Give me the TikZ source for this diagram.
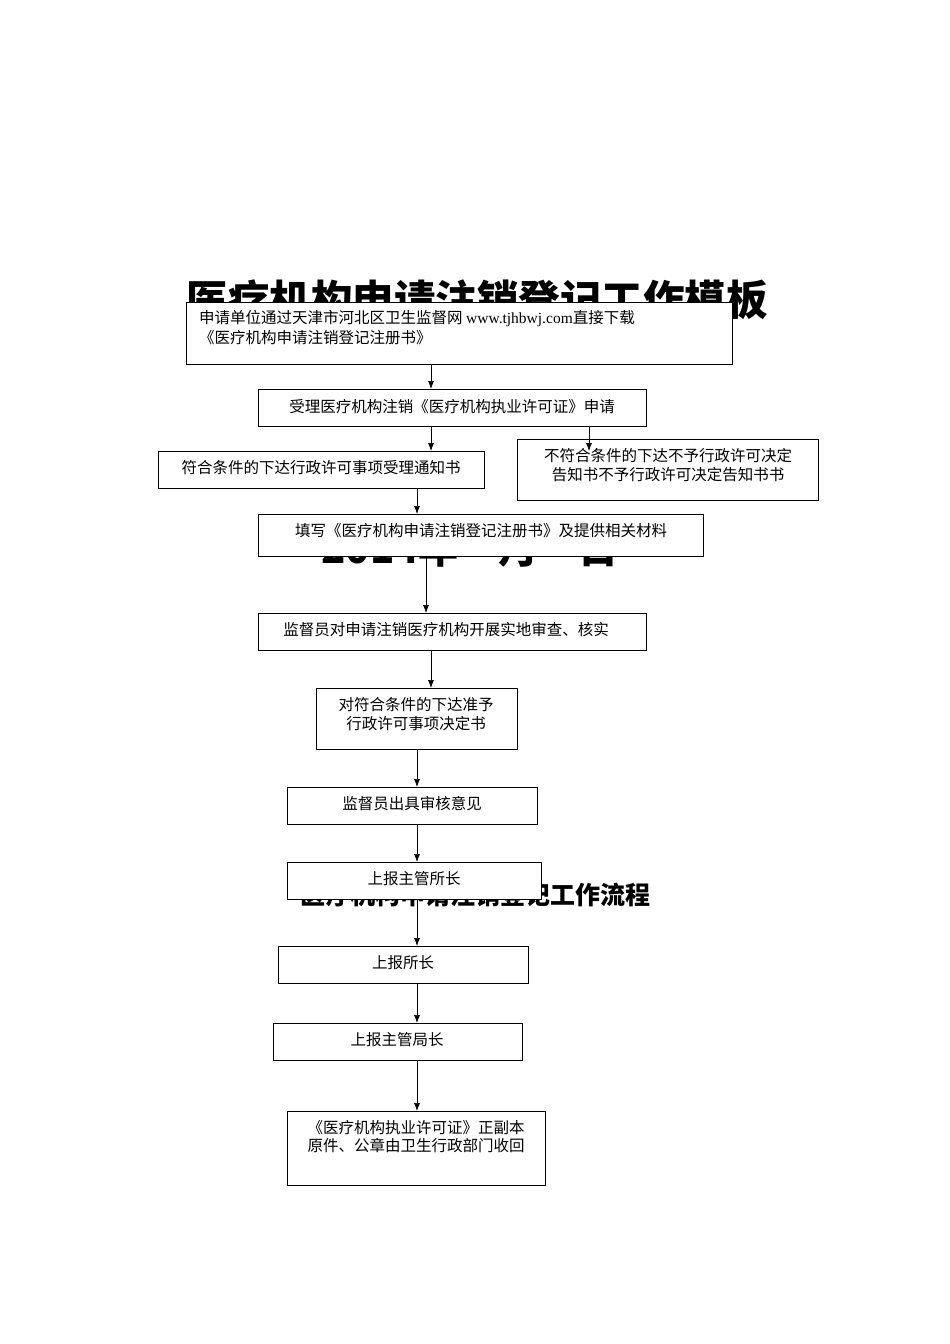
\documentclass[tikz,border=0pt]{standalone}
\usepackage{fontspec}
\usetikzlibrary{arrows.meta}
\setmainfont{Noto Sans CJK SC}
\newfontfamily\lserif{Liberation Serif}
\begin{document}
\begin{tikzpicture}[x=1pt,y=-1pt,
  bx/.style={draw,fill=white,line width=0.7pt,inner sep=0pt,font=\fontsize{15}{19}\selectfont},
  arr/.style={-{Latex[length=8pt,width=6pt]},line width=0.7pt}]
\useasboundingbox[fill=white] (0,0) rectangle (950,1344);
% background texts
\node[font=\fontsize{41.5}{40}\selectfont\bfseries] (t1) at (477,300) {医疗机构申请注销登记工作模板};
\node[font=\fontsize{40}{40}\selectfont\bfseries] (t2) at (470,548) {2014年\quad 月\quad 日};
\node[font=\fontsize{25}{25}\selectfont\bfseries] (t3) at (475,895) {医疗机构申请注销登记工作流程};
% boxes
\node[bx,minimum width=546,minimum height=62,anchor=north west] (b1) at (186,302) {};
\node[anchor=north west,font=\fontsize{15.5}{20}\selectfont,align=left,inner sep=0pt] (b1t) at (199,310) {申请单位通过天津市河北区卫生监督网 {\lserif www.tjhbwj.com}直接下载\\《医疗机构申请注销登记注册书》};
\node[bx,minimum width=388,minimum height=37,anchor=north west] (b2) at (258,389) {};
\node (b2t) at (452,407) {\fontsize{15.5}{19}\selectfont 受理医疗机构注销《医疗机构执业许可证》申请};
\node[bx,minimum width=326,minimum height=37,anchor=north west] (b3) at (158,451) {};
\node (b3t) at (321,468) {\fontsize{15.5}{19}\selectfont 符合条件的下达行政许可事项受理通知书};
\node[bx,minimum width=301,minimum height=61,anchor=north west] (b4) at (517,439) {};
\node[align=center,font=\fontsize{15.5}{19}\selectfont] (b4t) at (668,465) {不符合条件的下达不予行政许可决定\\告知书不予行政许可决定告知书书};
\node[bx,minimum width=445,minimum height=42,anchor=north west] (b5) at (258,514) {};
\node (b5t) at (481,531) {\fontsize{15.5}{19}\selectfont 填写《医疗机构申请注销登记注册书》及提供相关材料};
\node[bx,minimum width=388,minimum height=37,anchor=north west] (b6) at (258,613) {};
\node (b6t) at (446,630) {\fontsize{15.5}{19}\selectfont 监督员对申请注销医疗机构开展实地审查、核实};
\node[bx,minimum width=201,minimum height=61,anchor=north west] (b7) at (316,688) {};
\node[align=center,font=\fontsize{15.5}{19}\selectfont] (b7t) at (416,714) {对符合条件的下达准予\\行政许可事项决定书};
\node[bx,minimum width=250,minimum height=37,anchor=north west] (b8) at (287,787) {};
\node (b8t) at (412,804) {\fontsize{15.5}{19}\selectfont 监督员出具审核意见};
\node[bx,minimum width=254,minimum height=37,anchor=north west] (b9) at (287,862) {};
\node (b9t) at (414,879) {\fontsize{15.5}{19}\selectfont 上报主管所长};
\node[bx,minimum width=250,minimum height=37,anchor=north west] (b10) at (278,946) {};
\node (b10t) at (403,963) {\fontsize{15.5}{19}\selectfont 上报所长};
\node[bx,minimum width=249,minimum height=37,anchor=north west] (b11) at (273,1023) {};
\node (b11t) at (397,1040) {\fontsize{15.5}{19}\selectfont 上报主管局长};
\node[bx,minimum width=258,minimum height=74,anchor=north west] (b12) at (287,1111) {};
\node[align=center,font=\fontsize{15.5}{18}\selectfont] (b12t) at (416,1137) {《医疗机构执业许可证》正副本\\原件、公章由卫生行政部门收回};
% arrows
\draw[arr] (b1.south -| 431,0) -- (b2.north -| 431,0);
\draw[arr] (b2.south -| 431,0) -- (b3.north -| 431,0);
\draw[arr] (b2.south -| 589,0) -- ([yshift=-12]b4.north -| 589,0);
\draw[arr] (b3.south -| 417,0) -- (b5.north -| 417,0);
\draw[arr] (b5.south -| 426,0) -- (b6.north -| 426,0);
\draw[arr] (b6.south -| 431,0) -- (b7.north -| 431,0);
\draw[arr] (b7.south -| 417,0) -- (b8.north -| 417,0);
\draw[arr] (b8.south -| 417,0) -- (b9.north -| 417,0);
\draw[arr] (b9.south -| 417,0) -- (b10.north -| 417,0);
\draw[arr] (b10.south -| 417,0) -- (b11.north -| 417,0);
\draw[arr] (b11.south -| 417,0) -- (b12.north -| 417,0);
\end{tikzpicture}
\end{document}
